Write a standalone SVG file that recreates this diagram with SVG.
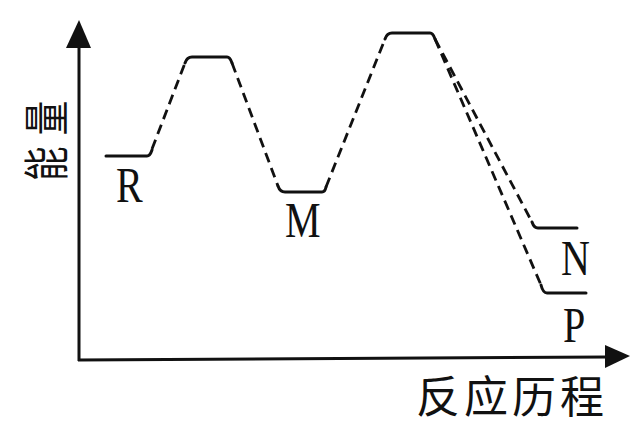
<svg xmlns="http://www.w3.org/2000/svg" width="631" height="426" viewBox="0 0 631 426">
<style>
.axis{stroke:#111;stroke-width:3;fill:none}
.lvl{stroke:#111;stroke-width:3;fill:none;stroke-linecap:round;stroke-linejoin:round}
.dash{stroke:#111;stroke-width:2.8;fill:none;stroke-dasharray:10 6}
.lab{font-family:"Liberation Serif","Times New Roman",serif;font-size:50px;fill:#111}
.cjk{font-family:"Noto Sans CJK SC","Noto Sans CJK JP",sans-serif;fill:#111}
</style>
<rect width="631" height="426" fill="#fff"/>
<g id="axes">
<line class="axis" x1="79" y1="361" x2="79" y2="44"/>
<polygon points="79,20 66,48 91,48" fill="#111"/>
<line class="axis" x1="78" y1="360" x2="608" y2="357"/>
<polygon points="630,356 605,345 605,368" fill="#111"/>
<text class="cjk" font-size="46" letter-spacing="15" transform="translate(63,181) rotate(-90) scale(0.75,1)">能量</text>
<text class="cjk" font-size="44" letter-spacing="4" x="512" y="413" text-anchor="middle">反应历程</text>
</g>
<g id="connectors">
<path class="dash" d="M152,149 L185,63"/>
<path class="dash" d="M232,63 L278,186"/>
<path class="dash" d="M326,187 L385,39"/>
<path class="dash" d="M435,39 L532,222"/>
<path class="dash" d="M435,39 L541,285"/>
</g>
<g id="R">
<path class="lvl" d="M106,156 H147 Q150,156 152,150"/>
<text class="lab" transform="translate(116,202) scale(0.8,1)">R</text>
</g>
<g id="TS1">
<path class="lvl" d="M185,63 Q187,57 192,57 H227 Q230,57 232,63"/>
</g>
<g id="M">
<path class="lvl" d="M278,186 Q280,192 285,192 H322 Q325,192 326,187"/>
<text class="lab" transform="translate(285,237) scale(0.8,1)">M</text>
</g>
<g id="TS2">
<path class="lvl" d="M385,39 Q387,33 392,33 H430 Q433,33 435,39"/>
</g>
<g id="N">
<path class="lvl" d="M532,222 Q534,228 538,228 H577"/>
<text class="lab" transform="translate(561,275) scale(0.8,1)">N</text>
</g>
<g id="P">
<path class="lvl" d="M541,285 Q543,293 547,293 H586"/>
<text class="lab" transform="translate(563,342) scale(0.8,1)">P</text>
</g>
</svg>
